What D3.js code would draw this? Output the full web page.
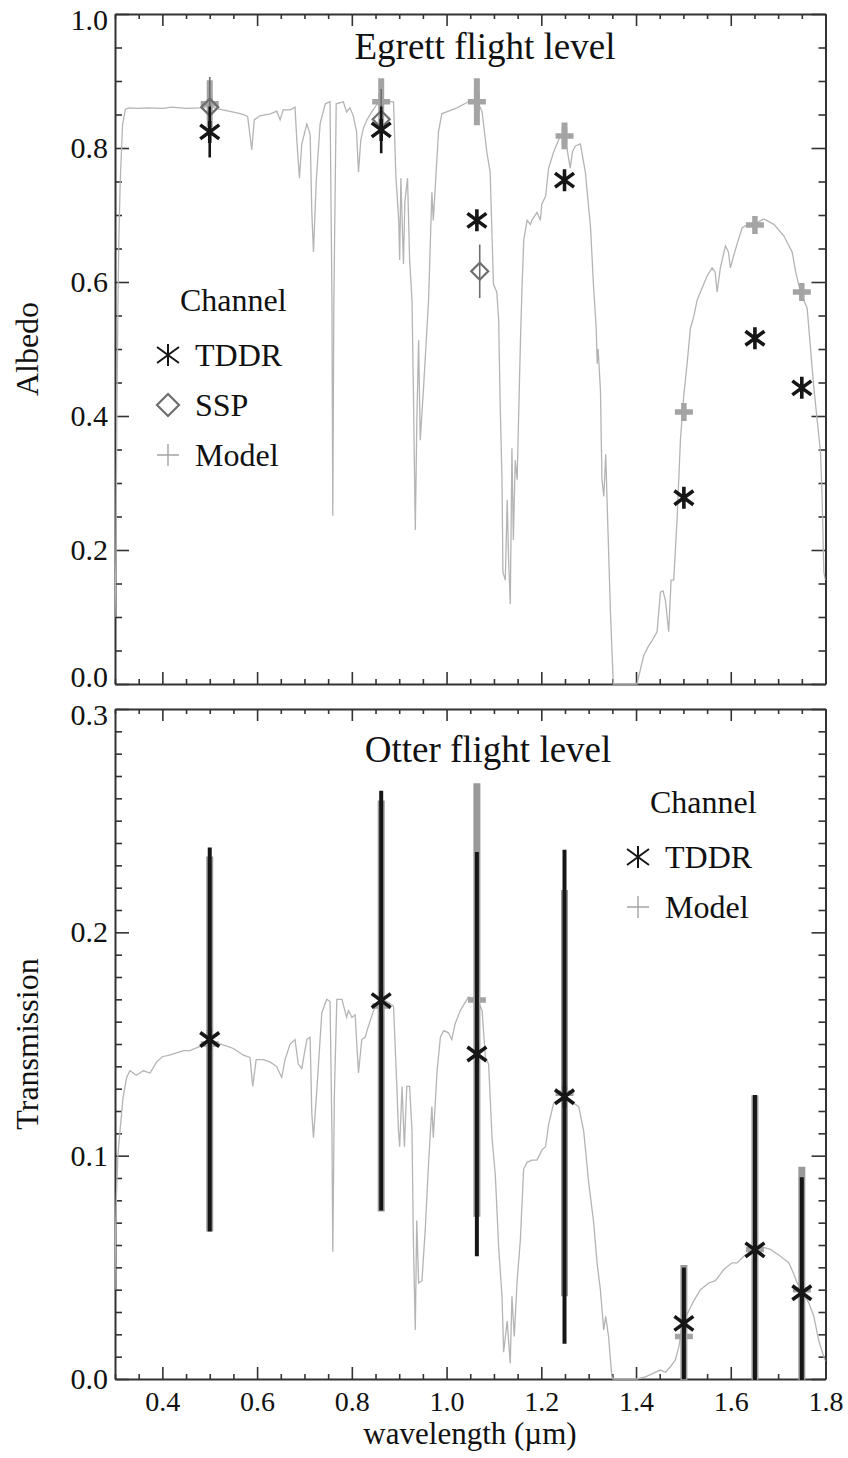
<!DOCTYPE html>
<html>
<head>
<meta charset="utf-8">
<script src="https://cdn.jsdelivr.net/npm/d3@7"></script>
<style>
body { margin: 0; background: #fff; }
text { font-family: "Liberation Serif", "Times New Roman", serif; fill: #111; }
</style>
</head>
<body>
<div id="chart"></div>
<script>
// Spectrum at Egrett level (albedo)
var albedoWl = [0.300,0.302,0.304,0.306,0.308,0.311,0.316,0.322,0.33,0.35,0.37,0.40,0.42,0.45,0.48,0.50,0.52,0.54,0.56,0.571,0.580,0.5887,0.594,0.606,0.628,0.6415,0.6486,0.655,0.670,0.680,0.684,0.6894,0.6943,0.705,0.712,0.7155,0.719,0.725,0.733,0.744,0.754,0.758,0.7598,0.762,0.767,0.782,0.789,0.796,0.803,0.810,0.814,0.819,0.8246,0.832,0.842,0.853,0.867,0.888,0.893,0.899,0.901,0.9035,0.909,0.912,0.9176,0.922,0.927,0.930,0.934,0.9373,0.941,0.9444,0.9514,0.962,0.969,0.972,0.976,0.983,0.990,1.000,1.022,1.046,1.064,1.075,1.085,1.092,1.099,1.106,1.110,1.113,1.117,1.119,1.124,1.128,1.131,1.1345,1.138,1.141,1.145,1.149,1.154,1.156,1.159,1.163,1.170,1.177,1.180,1.191,1.198,1.201,1.209,1.2155,1.226,1.240,1.247,1.254,1.261,1.266,1.272,1.2825,1.293,1.304,1.310,1.316,1.318,1.320,1.325,1.328,1.332,1.336,1.339,1.346,1.352,1.402,1.416,1.425,1.434,1.4444,1.4515,1.457,1.462,1.469,1.474,1.4796,1.4866,1.4937,1.5007,1.5078,1.5148,1.522,1.529,1.543,1.550,1.5606,1.567,1.5711,1.578,1.5887,1.595,1.5993,1.606,1.6134,1.624,1.636,1.6486,1.6698,1.691,1.712,1.7296,1.737,1.747,1.7613,1.7683,1.7754,1.7824,1.7895,1.793,1.7965,1.800];
var albedoVal = [0.10,0.19,0.40,0.55,0.66,0.75,0.835,0.858,0.860,0.859,0.860,0.859,0.861,0.859,0.860,0.862,0.858,0.855,0.852,0.850,0.847,0.797,0.842,0.848,0.851,0.855,0.842,0.857,0.857,0.861,0.81,0.755,0.806,0.836,0.82,0.704,0.645,0.752,0.836,0.866,0.869,0.57,0.251,0.57,0.866,0.869,0.854,0.860,0.848,0.824,0.764,0.812,0.830,0.842,0.854,0.865,0.870,0.869,0.758,0.692,0.633,0.755,0.627,0.72,0.755,0.633,0.573,0.436,0.230,0.394,0.513,0.364,0.442,0.573,0.734,0.692,0.740,0.824,0.851,0.854,0.860,0.869,0.872,0.854,0.794,0.764,0.597,0.585,0.543,0.424,0.305,0.167,0.155,0.275,0.185,0.119,0.352,0.215,0.334,0.305,0.454,0.513,0.585,0.663,0.692,0.686,0.692,0.704,0.692,0.716,0.728,0.770,0.794,0.818,0.821,0.80,0.770,0.795,0.803,0.806,0.764,0.681,0.597,0.53,0.478,0.50,0.436,0.305,0.28,0.343,0.27,0.107,0.0,0.0,0.042,0.055,0.065,0.078,0.137,0.139,0.125,0.078,0.155,0.155,0.245,0.364,0.430,0.478,0.531,0.549,0.573,0.597,0.609,0.621,0.615,0.585,0.621,0.654,0.645,0.621,0.639,0.657,0.681,0.686,0.686,0.694,0.686,0.669,0.645,0.615,0.585,0.561,0.501,0.442,0.394,0.346,0.275,0.167,0.155];

// Spectrum at Otter level (transmission)
var transWl = [0.300,0.301,0.303,0.306,0.3105,0.317,0.3246,0.3317,0.345,0.3598,0.374,0.388,0.400,0.415,0.4302,0.445,0.4584,0.4866,0.5007,0.510,0.5218,0.536,0.550,0.571,0.585,0.5908,0.598,0.613,0.627,0.641,0.652,0.659,0.6697,0.680,0.687,0.6943,0.705,0.7119,0.7155,0.719,0.726,0.7366,0.747,0.754,0.758,0.7598,0.763,0.7683,0.779,0.789,0.793,0.800,0.807,0.814,0.821,0.828,0.835,0.846,0.860,0.874,0.888,0.895,0.8985,0.901,0.906,0.911,0.916,0.922,0.927,0.930,0.934,0.937,0.941,0.948,0.955,0.962,0.969,0.972,0.980,0.987,0.994,1.004,1.011,1.018,1.029,1.046,1.064,1.075,1.082,1.0888,1.096,1.103,1.110,1.117,1.1205,1.128,1.1345,1.138,1.143,1.149,1.1557,1.1627,1.170,1.180,1.191,1.2015,1.209,1.2155,1.226,1.240,1.2543,1.268,1.279,1.2895,1.300,1.3106,1.3177,1.3247,1.3318,1.336,1.342,1.349,1.3514,1.402,1.4197,1.437,1.4514,1.462,1.4725,1.483,1.490,1.4972,1.5078,1.5219,1.536,1.5536,1.5676,1.5853,1.6028,1.6134,1.6275,1.6416,1.6627,1.6838,1.705,1.7226,1.733,1.740,1.7543,1.7649,1.7754,1.786,1.7965,1.800];
var transVal = [0.040,0.064,0.082,0.100,0.111,0.126,0.135,0.138,0.136,0.138,0.137,0.142,0.1443,0.145,0.146,0.147,0.147,0.1496,0.152,0.150,0.150,0.149,0.148,0.145,0.144,0.131,0.143,0.143,0.142,0.140,0.135,0.143,0.150,0.152,0.141,0.139,0.152,0.153,0.119,0.108,0.129,0.164,0.170,0.169,0.11,0.057,0.126,0.170,0.170,0.162,0.165,0.162,0.163,0.137,0.152,0.153,0.158,0.165,0.170,0.169,0.167,0.131,0.111,0.104,0.131,0.104,0.131,0.131,0.111,0.061,0.022,0.071,0.043,0.044,0.067,0.0966,0.122,0.108,0.138,0.153,0.156,0.155,0.152,0.159,0.165,0.171,0.170,0.165,0.144,0.141,0.108,0.091,0.059,0.037,0.012,0.026,0.007,0.037,0.019,0.044,0.062,0.094,0.097,0.098,0.098,0.1026,0.104,0.114,0.1235,0.125,0.125,0.1235,0.122,0.111,0.088,0.070,0.052,0.040,0.022,0.028,0.019,0.001,0.0,0.0,0.001,0.0026,0.004,0.003,0.0055,0.0085,0.014,0.023,0.029,0.035,0.040,0.043,0.044,0.049,0.052,0.052,0.055,0.057,0.0593,0.058,0.055,0.052,0.047,0.043,0.038,0.034,0.028,0.017,0.010,0.008];

// Channel measurements
var channelWl = [0.500, 0.862, 1.064, 1.249, 1.501, 1.651, 1.750];
var tddrAlbedo = [0.824, 0.827, 0.692, 0.752, 0.278, 0.516, 0.442];
var tddrAlbedoErr = [0.038, 0.035, 0, 0, 0, 0, 0];
var sspWl = [0.500, 0.862, 1.070];
var sspAlbedo = [0.861, 0.843, 0.616];
var sspAlbedoErr = [0.045, 0.045, 0.040];
var modelAlbedo = [0.866, 0.869, 0.869, 0.818, 0.406, 0.685, 0.585];
var modelAlbedoErr = [0.035, 0.035, 0.035, 0.02, 0, 0, 0];

var tddrTrans = [0.152, 0.1694, 0.1455, 0.1264, 0.0249, 0.0578, 0.0386];
var tddrTransErr = [0.086, 0.094, 0.0905, 0.1106, 0.025, 0.0694, 0.0517];
var modelTrans = [0.150, 0.167, 0.1697, 0.128, 0.019, 0.058, 0.040];
var modelTransErr = [0.084, 0.092, 0.097, 0.091, 0.032, 0.069, 0.055];

var xMajor = [0.4, 0.6, 0.8, 1.0, 1.2, 1.4, 1.6, 1.8];
var albedoTicks = [0.0, 0.2, 0.4, 0.6, 0.8, 1.0];
var transTicks = [0.0, 0.1, 0.2, 0.3];

var width = 848, height = 1458;
var axisColor = "#333", lineGrey = "#b4b4b4", modelGrey = "#a4a4a4", sspGrey = "#6e6e6e", ink = "#161616";

var svg = d3.select("#chart").append("svg")
	.attr("width", width)
	.attr("height", height);

var x = d3.scaleLinear().domain([0.3, 1.8]).range([115, 825.5]);
var yA = d3.scaleLinear().domain([0, 1]).range([684, 14]);
var yT = d3.scaleLinear().domain([0, 0.3]).range([1379, 709]);

function minorTicks(lo, hi, step, majors) {
	var out = [];
	for (var i = Math.round(lo / step); i * step <= hi + 1e-9; i++) {
		var v = +(i * step).toFixed(4);
		if (!majors.some(function(m) { return Math.abs(m - v) < 1e-6; })) out.push(v);
	}
	return out;
}

function styleAxis(g, fs) {
	g.select(".domain").attr("stroke", axisColor).attr("stroke-width", 2);
	g.selectAll(".tick line").attr("stroke", axisColor).attr("stroke-width", 1.6);
	g.selectAll("text").attr("font-family", "Liberation Serif, serif").attr("font-size", fs || 30).attr("fill", "#111");
}

// Build one panel: frame, ticks, clip
function drawFrame(y, yMajor, yMinor, showX, lowShift, id) {
	var y0 = y.range()[0], y1 = y.range()[1];
	var xMinor = minorTicks(0.3, 1.8, 0.05, xMajor);
	var yMax = d3.max(yMajor);

	var bx = svg.append("g").attr("transform", "translate(0," + y0 + ")")
		.call(d3.axisBottom(x).tickValues(xMajor).tickSize(-12).tickSizeOuter(0).tickPadding(12)
			.tickFormat(showX ? d3.format(".1f") : ""));
	styleAxis(bx, 28);
	var bxm = svg.append("g").attr("transform", "translate(0," + y0 + ")")
		.call(d3.axisBottom(x).tickValues(xMinor).tickSize(-5).tickFormat(""));
	styleAxis(bxm); bxm.select(".domain").remove();

	var tx = svg.append("g").attr("transform", "translate(0," + y1 + ")")
		.call(d3.axisTop(x).tickValues(xMajor).tickSize(-12).tickSizeOuter(0).tickFormat(""));
	styleAxis(tx);
	var txm = svg.append("g").attr("transform", "translate(0," + y1 + ")")
		.call(d3.axisTop(x).tickValues(xMinor).tickSize(-5).tickFormat(""));
	styleAxis(txm); txm.select(".domain").remove();

	var ly = svg.append("g").attr("transform", "translate(" + x.range()[0] + ",0)")
		.call(d3.axisLeft(y).tickValues(yMajor).tickSize(-14).tickSizeOuter(0).tickPadding(7).tickFormat(d3.format(".1f")));
	styleAxis(ly, 30);
	// nudge the end labels inward like the original plot
	ly.selectAll(".tick text").attr("dy", function(d) {
		if (d === yMax) return "0.52em";
		if (d === 0 && lowShift) return "0.09em";
		return "0.32em";
	});
	var lym = svg.append("g").attr("transform", "translate(" + x.range()[0] + ",0)")
		.call(d3.axisLeft(y).tickValues(yMinor).tickSize(-7).tickFormat(""));
	styleAxis(lym); lym.select(".domain").remove();

	var ry = svg.append("g").attr("transform", "translate(" + x.range()[1] + ",0)")
		.call(d3.axisRight(y).tickValues(yMajor).tickSize(-14).tickSizeOuter(0).tickFormat(""));
	styleAxis(ry);
	var rym = svg.append("g").attr("transform", "translate(" + x.range()[1] + ",0)")
		.call(d3.axisRight(y).tickValues(yMinor).tickSize(-7).tickFormat(""));
	styleAxis(rym); rym.select(".domain").remove();

	svg.append("clipPath").attr("id", id)
		.append("rect")
		.attr("x", x.range()[0]).attr("y", y1)
		.attr("width", x.range()[1] - x.range()[0]).attr("height", y0 - y1 + 1);
}

drawFrame(yA, albedoTicks, minorTicks(0, 1, 0.05, albedoTicks), false, true, "clipA");
drawFrame(yT, transTicks, minorTicks(0, 0.3, 0.01, transTicks), true, false, "clipT");

// Symbols
var starPath = "M0,-11V11M-9.5,-7L9.5,7M-9.5,7L9.5,-7";
var legendStar = "M0,-11V11M-11,-8L11,8M-11,8L11,-8";
var crossPath = "M-9,0H9M0,-9V9";
var diamondPath = "M0,-8.5L8.5,0L0,8.5L-8.5,0Z";

function drawSpectrum(wl, val, y, clip) {
	var line = d3.line().x(function(d) { return x(d); }).y(function(d, i) { return y(val[i]); });
	svg.append("path")
		.attr("d", line(wl))
		.attr("clip-path", "url(#" + clip + ")")
		.attr("fill", "none").attr("stroke", lineGrey).attr("stroke-width", 1.3);
}

function errorBars(g, wl, val, err, y, color, w) {
	g.selectAll(null).data(wl).enter()
		.filter(function(d, i) { return err[i] > 0; })
		.append("line")
		.attr("x1", function(d) { return x(d); }).attr("x2", function(d) { return x(d); })
		.attr("y1", function(d) { var i = wl.indexOf(d); return y(val[i] - err[i]); })
		.attr("y2", function(d) { var i = wl.indexOf(d); return y(val[i] + err[i]); })
		.attr("stroke", color).attr("stroke-width", w);
}

function symbols(g, wl, val, y, path, color, w, fill) {
	g.selectAll(null).data(wl).enter()
		.append("path")
		.attr("transform", function(d, i) { return "translate(" + x(d) + "," + y(val[i]) + ")"; })
		.attr("d", path)
		.attr("fill", fill || "none").attr("stroke", color).attr("stroke-width", w);
}

// ---------- Top panel: albedo ----------
drawSpectrum(albedoWl, albedoVal, yA, "clipA");
var gA = svg.append("g").attr("clip-path", "url(#clipA)");
errorBars(gA, channelWl, modelAlbedo, modelAlbedoErr, yA, modelGrey, 6);
symbols(gA, channelWl, modelAlbedo, yA, crossPath, modelGrey, 5.5);
errorBars(gA, sspWl, sspAlbedo, sspAlbedoErr, yA, sspGrey, 1.6);
symbols(gA, sspWl, sspAlbedo, yA, diamondPath, sspGrey, 2.2);
errorBars(gA, channelWl, tddrAlbedo, tddrAlbedoErr, yA, ink, 2.6);
symbols(gA, channelWl, tddrAlbedo, yA, starPath, ink, 3.6);

// ---------- Bottom panel: transmission ----------
drawSpectrum(transWl, transVal, yT, "clipT");
var gT = svg.append("g").attr("clip-path", "url(#clipT)");
errorBars(gT, channelWl, modelTrans, modelTransErr, yT, "#9a9a9a", 7);
symbols(gT, channelWl, modelTrans, yT, crossPath, modelGrey, 5.5);
errorBars(gT, channelWl, tddrTrans, tddrTransErr, yT, ink, 4);
symbols(gT, channelWl, tddrTrans, yT, starPath, ink, 3.6);

// ---------- Titles and axis labels ----------
svg.append("text").attr("x", 485).attr("y", 59).attr("text-anchor", "middle")
	.attr("font-size", 37).text("Egrett flight level");
svg.append("text").attr("x", 488).attr("y", 762).attr("text-anchor", "middle")
	.attr("font-size", 37).text("Otter flight level");

svg.append("text").attr("transform", "translate(38," + (yA(0.5)) + ") rotate(-90)")
	.attr("text-anchor", "middle").attr("font-size", 32).text("Albedo");
svg.append("text").attr("transform", "translate(38," + (yT(0.15)) + ") rotate(-90)")
	.attr("text-anchor", "middle").attr("font-size", 32).text("Transmission");
svg.append("text").attr("x", 470).attr("y", 1444).attr("text-anchor", "middle")
	.attr("font-size", 31).text("wavelength (\u00b5m)");

// ---------- Legends ----------
function legend(lx, ly, items) {
	var g = svg.append("g");
	g.append("text").attr("x", lx + 12).attr("y", ly).attr("font-size", 32).text("Channel");
	items.forEach(function(it, i) {
		var cy = ly + 44 + i * 50;
		g.append("path").attr("transform", "translate(" + lx + "," + cy + ")")
			.attr("d", it.path).attr("fill", "none").attr("stroke", it.color).attr("stroke-width", it.w);
		g.append("text").attr("x", lx + 27).attr("y", cy + 11).attr("font-size", 32).text(it.label);
	});
}
legend(168, 311, [
	{label: "TDDR", path: legendStar, color: ink, w: 2},
	{label: "SSP", path: "M0,-11L11,0L0,11L-11,0Z", color: sspGrey, w: 2.2},
	{label: "Model", path: "M-11,0H11M0,-11V11", color: modelGrey, w: 1.4}
]);
legend(638, 813, [
	{label: "TDDR", path: legendStar, color: ink, w: 2},
	{label: "Model", path: "M-11,0H11M0,-11V11", color: modelGrey, w: 1.4}
]);
</script>
</body>
</html>
